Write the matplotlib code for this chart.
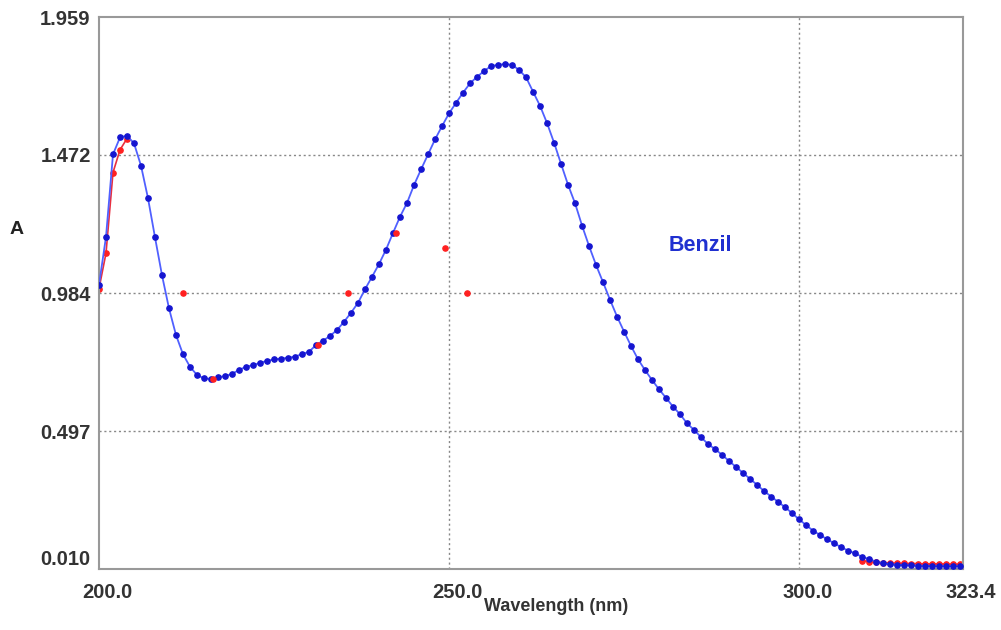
import numpy as np
import matplotlib
matplotlib.use("Agg")
import matplotlib.pyplot as plt
import matplotlib.transforms as mtransforms

# spectre UV du benzil, pas de 1 nm
wavelength = np.arange(200, 324)
absorb = [
    1.013, 1.183, 1.474, 1.534, 1.540, 1.513, 1.434, 1.319, 1.181, 1.047,
    0.930, 0.836, 0.768, 0.724, 0.695, 0.683, 0.681, 0.687, 0.691, 0.699,
    0.713, 0.724, 0.730, 0.738, 0.745, 0.750, 0.753, 0.756, 0.760, 0.769,
    0.777, 0.801, 0.816, 0.833, 0.854, 0.883, 0.915, 0.950, 0.998, 1.042,
    1.087, 1.138, 1.197, 1.254, 1.303, 1.366, 1.421, 1.474, 1.527, 1.574,
    1.619, 1.656, 1.692, 1.725, 1.748, 1.768, 1.786, 1.790, 1.793, 1.790,
    1.772, 1.746, 1.695, 1.645, 1.584, 1.515, 1.440, 1.366, 1.301, 1.222,
    1.150, 1.083, 1.022, 0.960, 0.901, 0.848, 0.797, 0.750, 0.712, 0.677,
    0.644, 0.614, 0.583, 0.556, 0.524, 0.501, 0.475, 0.451, 0.433, 0.413,
    0.391, 0.370, 0.349, 0.328, 0.307, 0.285, 0.266, 0.247, 0.228, 0.207,
    0.185, 0.165, 0.145, 0.130, 0.115, 0.101, 0.087, 0.075, 0.065, 0.053,
    0.045, 0.036, 0.030, 0.027, 0.025, 0.024, 0.023, 0.022, 0.021, 0.021,
    0.020, 0.020, 0.020, 0.020,
]

# deuxième balayage (rouge), visible au début et à la fin
red_wl = [200, 201, 202, 203, 204]
red_abs = [1.000, 1.125, 1.410, 1.490, 1.530]
red_tail_wl = np.arange(309, 324)
red_tail_abs = [0.040, 0.036, 0.034, 0.032, 0.031, 0.030, 0.030, 0.029,
                0.029, 0.028, 0.028, 0.028, 0.028, 0.027, 0.027]

# points isolés rouges
spike_wl = [212.0, 216.3, 231.3, 235.6, 242.4, 249.4, 252.6]
spike_abs = [0.984, 0.681, 0.800, 0.984, 1.196, 1.143, 0.984]

xticks = [200.0, 250.0, 300.0, 323.4]
yticks = [0.010, 0.497, 0.984, 1.472, 1.959]

fig = plt.figure(figsize=(10.01, 6.30), dpi=100)
ax = fig.add_axes([0.0989, 0.0968, 0.8631, 0.8762])

ax.set_xlim(200.0, 323.4)
ax.set_ylim(0.010, 1.959)

# grille pointillée
for x in xticks[1:3]:
    ax.axvline(x, color="#888888", lw=1.0, ls=(0, (1.5, 2)), zorder=0)
for y in yticks[1:4]:
    ax.axhline(y, color="#888888", lw=1.0, ls=(0, (1.5, 2)), zorder=0)

ax.plot(red_wl, red_abs, color="#e83040", lw=1.2, marker="o", ms=3.8,
        mfc="#ff2020", mec="#ff2020", zorder=2)
ax.plot(red_tail_wl, red_tail_abs, color="#e83040", lw=1.2, marker="o", ms=3.8,
        mfc="#ff2020", mec="#ff2020", zorder=2)
ax.plot(wavelength, absorb, color="#5060ff", lw=1.3, marker="o", ms=3.8,
        mfc="#1515d0", mec="#1515d0", zorder=3)
ax.scatter(spike_wl, spike_abs, s=14, color="#ff2020", zorder=4)

ax.set_xticks(xticks)
ax.set_xticklabels([f"{v:.1f}" for v in xticks])
ax.set_yticks(yticks)
ax.set_yticklabels([f"{v:.3f}" for v in yticks])
ax.tick_params(length=0, labelsize=14.5, labelcolor="#333333")
ax.tick_params(axis="x", pad=10)
ax.tick_params(axis="y", pad=6)
for lab in ax.get_xticklabels() + ax.get_yticklabels():
    lab.set_fontweight("bold")
    lab.set_family("Liberation Sans")
ax.get_yticklabels()[0].set_va("bottom")
# les étiquettes x sont décalées vers la droite dans l'original
shift = mtransforms.ScaledTranslation(8 / 100, 0, fig.dpi_scale_trans)
for lab in ax.get_xticklabels():
    lab.set_transform(lab.get_transform() + shift)

for s in ax.spines.values():
    s.set_color("#999999")
    s.set_linewidth(1.5)

ax.set_xlabel("Wavelength (nm)", fontsize=13, fontweight="bold",
              family="Liberation Sans", color="#333333")
ax.xaxis.set_label_coords(0.529, -0.053)
fig.text(0.010, 0.628, "A", fontsize=14, fontweight="bold",
         family="Liberation Sans", color="#222222")
ax.text(281.3, 1.154, "Benzil", fontsize=15.5, fontweight="bold",
        family="Liberation Sans", color="#2030d0", va="center")

fig.savefig("out.png", dpi=100, facecolor="white")
